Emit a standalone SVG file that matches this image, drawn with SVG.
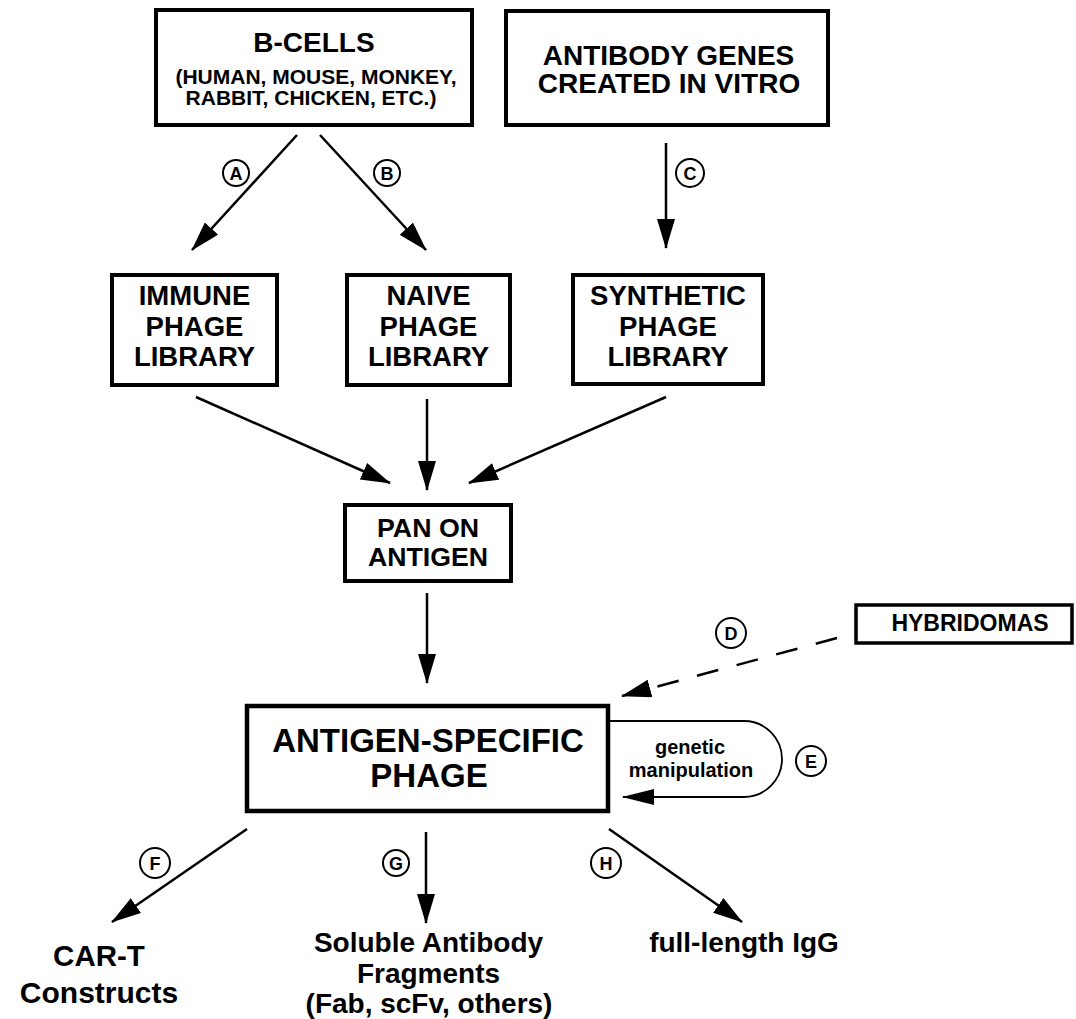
<svg xmlns="http://www.w3.org/2000/svg" width="1076" height="1019" viewBox="0 0 1076 1019">
<style>
text{font-family:"Liberation Sans",Arial,sans-serif;font-weight:bold;fill:#000;text-anchor:middle}
.box{fill:#fff;stroke:#000;stroke-width:4}
.arr{fill:none;stroke:#000;stroke-width:2.5}
.badge circle{fill:#fff;stroke:#000;stroke-width:2}
.badge text{font-size:18px}
</style>
<defs>
<marker id="ah" viewBox="0 0 30 18" refX="29" refY="9" markerWidth="30" markerHeight="18" markerUnits="userSpaceOnUse" orient="auto">
<path d="M0,0 L30,9 L0,18 z" fill="#000"/>
</marker>
<marker id="ahs" viewBox="0 0 32 16" refX="31" refY="8" markerWidth="32" markerHeight="16" markerUnits="userSpaceOnUse" orient="auto">
<path d="M0,0 L32,8 L0,16 z" fill="#000"/>
</marker>
</defs>
<rect width="1076" height="1019" fill="#fff"/>

<g id="connectors">
<line class="arr" x1="297" y1="135" x2="192" y2="250" marker-end="url(#ah)"/>
<line class="arr" x1="320" y1="135" x2="426" y2="250" marker-end="url(#ah)"/>
<line class="arr" x1="666" y1="143" x2="666" y2="248" marker-end="url(#ah)"/>
<line class="arr" x1="196" y1="397" x2="390" y2="483" marker-end="url(#ah)"/>
<line class="arr" x1="427" y1="399" x2="427" y2="490" marker-end="url(#ah)"/>
<line class="arr" x1="666" y1="397" x2="469" y2="483" marker-end="url(#ah)"/>
<line class="arr" x1="427" y1="593" x2="427" y2="683" marker-end="url(#ah)"/>
<line class="arr" x1="837" y1="638" x2="622" y2="696" stroke-dasharray="22 19" marker-end="url(#ah)"/>
<path class="arr" style="stroke-width:1.8" d="M610,721 H744 A38,38 0 0 1 744,797 H623" marker-end="url(#ahs)"/>
<line class="arr" x1="247" y1="829" x2="112" y2="922" marker-end="url(#ah)"/>
<line class="arr" x1="426" y1="832" x2="426" y2="923" marker-end="url(#ah)"/>
<line class="arr" x1="609" y1="829" x2="742" y2="922" marker-end="url(#ah)"/>
</g>

<g id="bcells">
<rect class="box" x="156" y="10" width="316" height="115"/>
<text x="314" y="52" font-size="28">B-CELLS</text>
<text x="316" y="84" font-size="21">(HUMAN, MOUSE, MONKEY,</text>
<text x="311" y="105" font-size="21">RABBIT, CHICKEN, ETC.)</text>
</g>

<g id="invitro">
<rect class="box" x="506" y="11" width="322" height="114"/>
<text x="668.5" y="65" font-size="28">ANTIBODY GENES</text>
<text x="669" y="93" font-size="28">CREATED IN VITRO</text>
</g>

<g id="immune">
<rect class="box" x="112" y="275" width="165" height="110"/>
<text x="194.5" y="305" font-size="27.5">IMMUNE</text>
<text x="194.5" y="336" font-size="27.5">PHAGE</text>
<text x="194.5" y="366" font-size="27.5">LIBRARY</text>
</g>

<g id="naive">
<rect class="box" x="347" y="275" width="163" height="110"/>
<text x="428.5" y="305" font-size="27.5">NAIVE</text>
<text x="428.5" y="336" font-size="27.5">PHAGE</text>
<text x="428.5" y="366" font-size="27.5">LIBRARY</text>
</g>

<g id="synthetic">
<rect class="box" x="573" y="275" width="190" height="109"/>
<text x="668" y="305" font-size="27.5">SYNTHETIC</text>
<text x="668" y="336" font-size="27.5">PHAGE</text>
<text x="668" y="366" font-size="27.5">LIBRARY</text>
</g>

<g id="pan">
<rect class="box" x="345" y="505" width="166" height="76"/>
<text x="428" y="537" font-size="25" textLength="102" lengthAdjust="spacingAndGlyphs">PAN ON</text>
<text x="428" y="566" font-size="25" textLength="120" lengthAdjust="spacingAndGlyphs">ANTIGEN</text>
</g>

<g id="agphage">
<rect class="box" style="stroke-width:4.5" x="247" y="706" width="361" height="105"/>
<text x="428" y="752" font-size="33">ANTIGEN-SPECIFIC</text>
<text x="429" y="787" font-size="33">PHAGE</text>
</g>

<g id="hybridomas">
<rect class="box" style="stroke-width:3.5" x="856" y="605" width="216" height="38"/>
<text x="970" y="631" font-size="23">HYBRIDOMAS</text>
</g>

<g id="genetic-label">
<text x="690" y="754" font-size="20">genetic</text>
<text x="691" y="777" font-size="20">manipulation</text>
</g>

<g id="cart">
<text x="99" y="966" font-size="29.5">CAR-T</text>
<text x="99" y="1003" font-size="30">Constructs</text>
</g>

<g id="soluble">
<text x="428.5" y="952" font-size="28">Soluble Antibody</text>
<text x="428.5" y="983" font-size="28">Fragments</text>
<text x="429" y="1013" font-size="28">(Fab, scFv, others)</text>
</g>

<g id="igg">
<text x="744" y="952" font-size="28">full-length IgG</text>
</g>

<g id="badges">
<g class="badge" id="badge-a"><circle cx="236" cy="173" r="13"/><text x="236" y="179.5">A</text></g>
<g class="badge" id="badge-b"><circle cx="387" cy="173" r="13"/><text x="387" y="179.5">B</text></g>
<g class="badge" id="badge-c"><circle cx="690" cy="173" r="14"/><text x="690" y="179.5">C</text></g>
<g class="badge" id="badge-d"><circle cx="731" cy="633" r="15"/><text x="731" y="640">D</text></g>
<g class="badge" id="badge-e"><circle cx="811" cy="761" r="15"/><text x="811" y="768">E</text></g>
<g class="badge" id="badge-f"><circle cx="155" cy="863" r="15"/><text x="155" y="870">F</text></g>
<g class="badge" id="badge-g"><circle cx="396" cy="863" r="13"/><text x="396" y="869.5">G</text></g>
<g class="badge" id="badge-h"><circle cx="606" cy="863" r="15"/><text x="606" y="870">H</text></g>
</g>
</svg>
